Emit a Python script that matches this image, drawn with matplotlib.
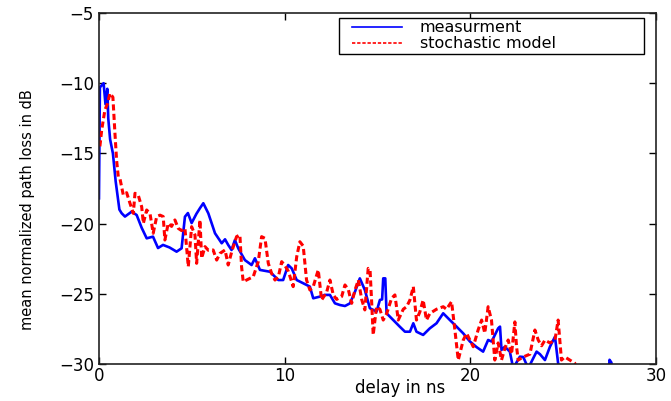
import numpy as np
import matplotlib
matplotlib.use('Agg')
import matplotlib.pyplot as plt
from matplotlib.patches import Rectangle

# measured delay profile (ns, dB)
meas_delay = [0.0, 0.05, 0.25, 0.35, 0.45, 0.5, 0.6, 0.75, 0.9, 1.1, 1.22, 1.4, 1.76, 2.03,
              2.3, 2.57, 2.91, 3.18, 3.45, 3.8, 4.18, 4.45, 4.63, 4.79, 4.99, 5.25, 5.44, 5.62,
              5.89, 6.25, 6.61, 6.79, 6.96, 7.14, 7.32, 7.5, 7.86, 8.22, 8.4, 8.67, 9.21, 9.66,
              9.92, 10.19, 10.38, 10.65, 11.0, 11.36, 11.54, 11.9, 12.17, 12.44, 12.71, 12.98,
              13.25, 13.52, 13.79, 14.05, 14.32, 14.59, 14.95, 15.13, 15.25, 15.31, 15.42, 15.49,
              15.85, 16.2, 16.48, 16.75, 16.93, 17.1, 17.46, 17.82, 18.18, 18.54, 18.9, 19.26,
              19.62, 19.98, 20.34, 20.69, 20.96, 21.15, 21.5, 21.6, 21.68, 21.86, 22.13, 22.31,
              22.67, 22.85, 23.12, 23.57, 23.75, 24.02, 24.29, 24.56, 24.73, 24.9, 25.5, 27.4,
              27.5, 27.6, 27.7]
meas_loss = [-18.2, -10.3, -10.0, -11.5, -10.4, -12.5, -14.0, -15.0, -17.0, -19.0, -19.26, -19.5,
             -19.15, -19.39, -20.3, -21.05, -20.93, -21.74, -21.52, -21.7, -22.0, -21.76, -19.51,
             -19.25, -19.96, -19.3, -18.9, -18.55, -19.27, -20.69, -21.4, -21.12, -21.52, -21.88,
             -21.17, -21.76, -22.6, -22.95, -22.47, -23.3, -23.43, -24.02, -24.02, -22.95, -23.19,
             -24.02, -24.25, -24.49, -25.32, -25.2, -25.08, -25.08, -25.68, -25.8, -25.87, -25.68,
             -24.85, -23.9, -24.73, -26.03, -26.27, -25.44, -25.4, -23.9, -23.9, -26.39, -26.87,
             -27.34, -27.7, -27.7, -27.1, -27.7, -27.93, -27.46, -27.1, -26.39, -26.87, -27.34,
             -27.82, -28.4, -28.8, -29.12, -28.29, -28.4, -27.46, -27.34, -29.0, -28.77, -29.12,
             -30.3, -29.48, -29.5, -30.3, -29.12, -29.3, -29.72, -28.77, -28.06, -29.95, -31.0,
             -31.5, -31.5, -29.7, -29.9, -31.5]

# stochastic model (ns, dB)
model_delay = [0.05, 0.15, 0.32, 0.45, 0.59, 0.75, 0.86, 0.95, 1.04, 1.13, 1.31, 1.49, 1.67, 1.85,
               1.94, 2.12, 2.3, 2.39, 2.57, 2.75, 2.92, 3.11, 3.29, 3.46, 3.55, 3.73, 3.91, 4.09,
               4.27, 4.45, 4.63, 4.81, 4.99, 5.17, 5.26, 5.44, 5.53, 5.71, 5.89, 6.15, 6.34, 6.52,
               6.79, 6.96, 7.15, 7.41, 7.59, 7.68, 7.77, 7.95, 8.31, 8.58, 8.76, 8.94, 9.12, 9.3,
               9.48, 9.66, 9.84, 10.02, 10.2, 10.46, 10.65, 10.82, 11.0, 11.18, 11.36, 11.54,
               11.81, 11.99, 12.26, 12.44, 12.62, 12.8, 13.07, 13.25, 13.43, 13.61, 13.79, 13.97,
               14.15, 14.32, 14.5, 14.6, 14.68, 14.77, 14.95, 15.13, 15.31, 15.5, 15.76, 15.94,
               16.12, 16.39, 16.57, 16.75, 16.93, 17.1, 17.28, 17.46, 17.64, 17.82, 18.18, 18.54,
               18.72, 18.99, 19.17, 19.35, 19.62, 19.8, 19.98, 20.16, 20.42, 20.61, 20.78, 20.96,
               21.14, 21.32, 21.5, 21.68, 21.86, 22.04, 22.22, 22.4, 22.49, 22.58, 22.85, 23.21,
               23.48, 23.66, 23.84, 24.02, 24.29, 24.56, 24.73, 24.91, 25.09, 25.36, 25.63, 25.7]
model_loss = [-14.5, -13.3, -11.9, -11.5, -10.72, -11.0, -13.57, -15.5, -16.66, -16.8, -17.96,
              -17.8, -18.55, -19.27, -17.84, -18.0, -18.8, -19.98, -19.03, -19.3, -20.69, -19.5,
              -19.4, -19.5, -21.17, -19.98, -20.2, -19.74, -20.34, -20.5, -20.34, -23.07, -20.22,
              -20.8, -22.83, -19.74, -22.47, -21.64, -21.9, -21.88, -22.6, -22.12, -21.88, -22.95,
              -22.0, -20.93, -20.81, -23.07, -24.14, -24.02, -23.78, -22.71, -20.93, -21.05,
              -22.83, -23.55, -24.02, -23.8, -22.71, -23.0, -23.4, -24.49, -22.36, -21.29, -21.6,
              -24.02, -24.73, -24.49, -23.3, -25.44, -24.9, -24.02, -25.08, -25.4, -25.2, -24.37,
              -24.7, -25.68, -24.73, -24.02, -25.4, -26.15, -23.19, -23.3, -25.4, -27.93, -25.92,
              -26.1, -26.87, -26.4, -25.32, -25.08, -26.87, -26.1, -25.92, -25.44, -24.49, -26.87,
              -26.3, -25.44, -26.87, -26.4, -26.1, -25.92, -26.1, -25.56, -27.58, -29.72, -28.3,
              -27.82, -28.29, -28.77, -27.58, -26.87, -27.8, -25.92, -26.87, -29.72, -28.5, -29.72,
              -28.9, -28.29, -29.3, -27.0, -28.77, -29.72, -29.5, -29.3, -27.58, -28.3, -28.7,
              -28.3, -28.5, -28.3, -26.87, -29.72, -29.5, -29.72, -29.95, -30.5]

x_ticks = [0, 10, 20, 30]
y_ticks = [-30, -25, -20, -15, -10, -5]

plt.rcParams['font.family'] = ['DejaVu Sans']

fig = plt.figure(figsize=(6.71, 4.01), dpi=100)
ax = fig.add_axes([0.1475, 0.0923, 0.8301, 0.8753])

ax.plot(meas_delay, meas_loss, color='#0000ff', linewidth=1.9, label='measurment')
ax.plot(model_delay, model_loss, color='#ff0000', linewidth=2.2, linestyle=(0, (2.0, 1.1)),
        label='stochastic model')

ax.set_xlim(0, 30)
ax.set_ylim(-30, -5)
ax.set_xticks(x_ticks)
ax.set_yticks(y_ticks)
ax.tick_params(direction='in', length=5, width=1, top=True, right=True, labelsize=12)
ax.tick_params(axis='x', pad=2)
for s in ax.spines.values():
    s.set_linewidth(1.2)
    s.set_color('#222222')

ax.set_xlabel('delay in ns', fontsize=12)
ax.set_ylabel('mean normalized path loss in dB', fontsize=10.5)
ax.xaxis.set_label_coords(0.54, -0.043)
ax.yaxis.set_label_coords(-0.115, 0.44)

# legend box (MATLAB style, fixed size)
ax.add_patch(Rectangle((0.431, 0.883), 0.5476, 0.1028, transform=ax.transAxes,
                       facecolor='white', edgecolor='black', linewidth=1.0, zorder=4.5))
leg = ax.legend(loc='upper left', fontsize=11.5, frameon=False, labelspacing=0.05,
                handlelength=3.15, handletextpad=1.1, borderpad=0.0, borderaxespad=0.0,
                bbox_to_anchor=(0.454, 0.979))
for line in leg.get_lines():
    line.set_linewidth(1.2)

fig.savefig('out.png', dpi=100)
